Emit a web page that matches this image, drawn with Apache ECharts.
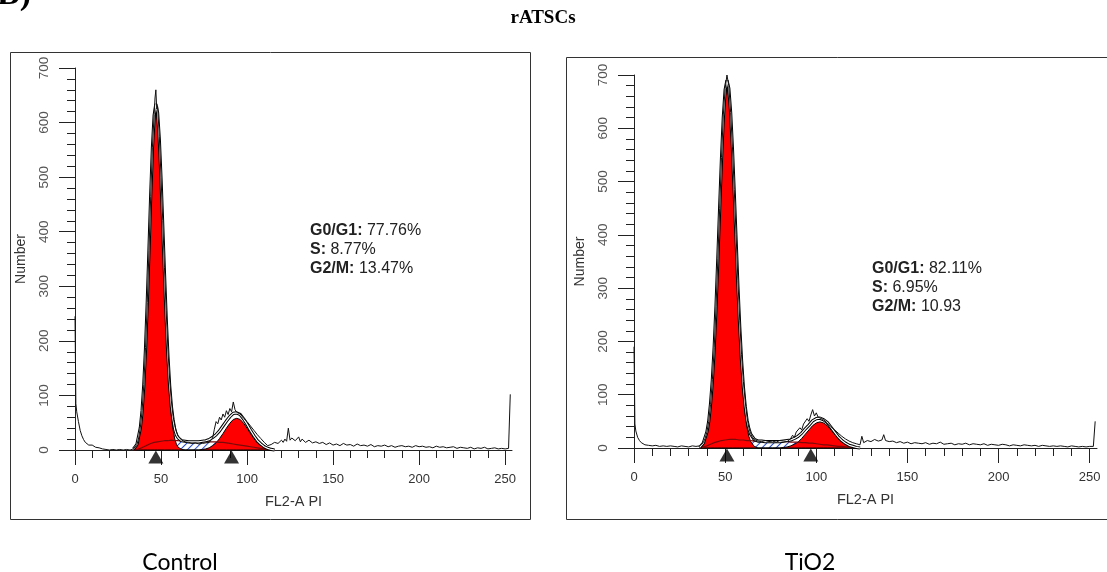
<!DOCTYPE html>
<html>
<head>
<meta charset="utf-8">
<script src="https://cdn.jsdelivr.net/npm/echarts@6.0.0/dist/echarts.min.js"></script>
<style>html,body{margin:0;padding:0;background:#fff}#main{width:1107px;height:572px}</style>
</head>
<body>
<div id="main"></div>
<script>
// axis ticks (FL2-A channel)
var xMajorTicks = [0, 50, 100, 150, 200, 250];
var xMinorTicks = [10, 20, 30, 40, 60, 70, 80, 90, 110, 120, 130, 140, 160, 170, 180, 190, 210, 220, 230, 240];

// Control: ModFit model components
var ctrlModelX = [34,36,38,39,40,41,42,43,44,45,46,47,48,49,50,51,52,53,54,55,56,57,58,59,60,62,64,66,68,70,72,74,76,78,80,82,84,86,88,90,92,94,96,98,100,102,104,106,108,110,112,114,116];
var ctrlG1 = [2,9,38,68,114,179,261,356,454,540,599,620,603,554,480,394,306,224,155,101,62,37,20,10,5,1,0,0,0,0,0,0,0,0,0,0,0,0,0,0,0,0,0,0,0,0,0,0,0,0,0,0,0];
var ctrlS = [0,1,3,4,6,7,9,10,12,13,14,14,15,15,16,16,17,17,17,17,18,18,17,17,17,16,16,15,15,15,15,15,15,15,15,15,14,14,13,12,11,10,9,8,7,6,5,4,3,2,1,0,0];
var ctrlG2 = [0,0,0,0,0,0,0,0,0,0,0,0,0,0,0,0,0,0,0,0,0,0,0,0,0,0,0,0,0,0,0,1,2,4,8,13,21,30,40,49,56,58,56,49,40,30,21,13,8,4,2,1,0];
var ctrlFit = [2,10,41,72,120,186,270,366,466,553,613,634,618,569,496,410,323,241,172,118,80,55,37,27,22,17,16,15,15,15,15,16,17,19,23,28,35,44,53,61,67,68,65,57,47,36,26,17,11,6,3,1,0];
var ctrlMarks = [47, 91];
// Control: measured histogram [channel, count]
var ctrlRaw = [[0,245],[0.5,85],[1,70],[2,52],[3,36],[4,26],[5,19],[6,14],[7,11],[8,9],[9,8],[10,9],[11,6],[12,5],[14,4],[16,2],[18,1],[20,0],[22,1],[24,0],[26,1],[28,0],[30,1],[32,0],[34,2],[36,10],[37,22],[38,42],[39,72],[40,120],[41,188],[42,270],[43,365],[44,465],[45,555],[46,615],[46.5,645],[47,660],[47.5,625],[48,630],[49,575],[50,500],[51,420],[52,335],[53,255],[54,185],[55,130],[56,90],[57,62],[58,45],[59,33],[60,26],[61,22],[62,18],[63,16],[64,15],[66,14],[68,12],[70,13],[72,11],[74,12],[76,13],[78,14],[80,22],[81,38],[82,52],[83,48],[84,60],[85,55],[86,66],[87,60],[88,72],[89,65],[90,76],[91,70],[92,88],[93,74],[94,69],[96,66],[98,58],[100,52],[102,44],[104,36],[106,28],[108,21],[110,14],[112,8],[114,10],[116,14],[118,12],[120,18],[121,14],[122,20],[123,16],[124,40],[125,18],[126,22],[128,17],[130,24],[131,15],[132,20],[134,14],[136,18],[138,13],[140,15],[142,12],[144,14],[146,10],[148,13],[150,9],[152,11],[154,8],[156,12],[158,9],[160,10],[162,7],[164,11],[166,8],[168,9],[170,7],[172,10],[174,6],[176,8],[178,7],[180,9],[182,6],[184,8],[186,5],[188,7],[190,8],[192,6],[194,7],[196,5],[198,8],[200,6],[202,7],[204,5],[206,6],[208,4],[210,7],[212,5],[214,6],[216,4],[218,5],[220,6],[222,3],[224,5],[226,4],[228,3],[230,5],[232,2],[234,4],[236,3],[238,5],[240,2],[242,3],[244,4],[246,2],[248,3],[250,2],[252,3],[253,102]];

// TiO2: ModFit model components
var tioModelX = [36,38,40,41,42,43,44,45,46,47,48,49,50,51,52,53,54,55,56,57,58,59,60,61,62,63,64,66,68,70,72,74,76,78,80,82,84,86,88,90,92,94,96,98,100,102,104,106,108,110,112,114,116,118,120,122,124];
var tioG1 = [1,7,26,45,76,120,179,255,344,438,529,606,657,675,659,614,545,462,374,288,212,149,99,63,38,22,12,3,0,0,0,0,0,0,0,0,0,0,0,0,0,0,0,0,0,0,0,0,0,0,0,0,0,0,0,0,0];
var tioS = [0,2,4,5,7,8,10,11,12,13,14,14,15,15,16,16,16,16,16,15,15,15,15,15,14,14,14,13,13,13,12,12,12,12,12,12,12,11,11,11,10,10,9,9,8,7,6,6,5,4,3,3,2,1,1,0,0];
var tioG2 = [0,0,0,0,0,0,0,0,0,0,0,0,0,0,0,0,0,0,0,0,0,0,0,0,0,0,0,0,0,0,0,0,0,0,0,1,2,4,7,11,18,26,34,42,47,49,47,42,34,26,18,11,7,4,2,1,0];
var tioFit = [1,9,30,50,83,128,189,266,356,451,543,620,672,690,675,630,561,478,390,303,227,164,114,78,52,36,26,16,13,13,12,12,12,12,12,13,14,15,18,22,28,36,43,51,55,56,53,48,39,30,21,14,9,5,3,1,0];
var tioMarks = [51, 97];
// TiO2: measured histogram [channel, count]
var tioRaw = [[0,190],[0.5,45],[1,32],[2,20],[3,14],[4,10],[5,8],[6,6],[8,5],[10,4],[12,5],[14,3],[16,4],[18,3],[20,4],[22,3],[24,2],[26,4],[28,3],[30,2],[32,4],[34,3],[36,4],[38,10],[39,18],[40,30],[41,50],[42,82],[43,128],[44,188],[45,265],[46,355],[47,450],[48,545],[49,625],[50,675],[51,700],[52,680],[53,630],[54,565],[55,485],[56,400],[57,315],[58,240],[59,175],[60,125],[61,88],[62,58],[63,38],[64,27],[65,20],[66,16],[68,13],[70,12],[72,14],[74,12],[76,13],[78,11],[80,14],[82,13],[84,12],[86,18],[87,24],[88,20],[89,30],[90,28],[91,38],[92,34],[93,45],[94,42],[95,55],[96,50],[97,62],[98,72],[99,60],[100,66],[101,58],[102,56],[104,53],[106,47],[108,40],[110,34],[112,28],[114,22],[116,17],[118,13],[120,10],[122,8],[124,6],[125,22],[126,10],[128,14],[130,12],[132,16],[134,13],[136,15],[137,25],[138,14],[140,12],[142,13],[144,10],[146,12],[148,9],[150,11],[152,8],[154,10],[156,9],[158,8],[160,10],[162,7],[164,9],[166,8],[168,11],[170,7],[172,8],[174,9],[176,6],[178,8],[180,7],[182,9],[184,6],[186,8],[188,7],[190,6],[192,8],[194,5],[196,7],[198,6],[200,5],[202,7],[204,6],[206,4],[208,6],[210,5],[212,4],[214,6],[216,5],[218,4],[220,5],[222,3],[224,5],[226,4],[228,3],[230,4],[232,3],[234,4],[236,3],[238,2],[240,4],[242,3],[244,2],[246,3],[248,2],[250,3],[252,3],[253,50]];

var FONT = 'Liberation Sans';
var hatch = {
  symbol: 'rect', symbolSize: 1, dashArrayX: [1, 0], dashArrayY: [1, 4],
  rotation: -Math.PI / 4, color: '#2b4fd0', backgroundColor: '#ffffff'
};

function zip(xs, ys) {
  return xs.map(function (x, i) { return [x, ys[i]]; });
}

function xMajor(g) {
  return {
    type: 'value', gridIndex: g, position: 'bottom', min: 0, max: 254,
    axisLine: {show: true, onZero: false, lineStyle: {color: '#222', width: 1}},
    axisTick: {show: true, customValues: xMajorTicks, length: 15, lineStyle: {color: '#222'}},
    axisLabel: {customValues: xMajorTicks, margin: 23, color: '#333', fontSize: 13, fontFamily: FONT},
    splitLine: {show: false},
    name: 'FL2-A PI', nameLocation: 'middle', nameGap: 44,
    nameTextStyle: {color: '#333', fontSize: 14.5, fontFamily: FONT}
  };
}
function xMinor(g) {
  return {
    type: 'value', gridIndex: g, position: 'bottom', min: 0, max: 254,
    axisLine: {show: false},
    axisTick: {show: true, customValues: xMinorTicks, length: 8, lineStyle: {color: '#222'}},
    axisLabel: {show: false},
    splitLine: {show: false}
  };
}
function yAx(g) {
  return {
    type: 'value', gridIndex: g, min: 0, max: 700, interval: 100,
    axisLine: {show: true, lineStyle: {color: '#222', width: 1}},
    axisTick: {show: true, length: 16, lineStyle: {color: '#222'}},
    minorTick: {show: true, splitNumber: 5, length: 8, lineStyle: {color: '#222'}},
    splitLine: {show: false},
    axisLabel: {rotate: 90, margin: 24, color: '#555', fontSize: 13.5, fontFamily: FONT},
    name: 'Number', nameLocation: 'middle', nameRotate: 90, nameGap: 47,
    nameTextStyle: {color: '#333', fontSize: 14, fontFamily: FONT}
  };
}

function panelSeries(g, modelX, g1, g2, s, fit, raw, marks) {
  var base = {type: 'line', xAxisIndex: 2 * g, yAxisIndex: g, symbol: 'none',
    showSymbol: false, clip: false, silent: true, animation: false};
  function mk(o) { return Object.assign({}, base, o); }
  return [
    mk({data: zip(modelX, s), z: 1, lineStyle: {width: 0},
      areaStyle: {color: '#ffffff', opacity: 1}, itemStyle: {color: '#2b4fd0', decal: hatch}}),
    mk({data: zip(modelX, g1), z: 2, lineStyle: {color: '#000', width: 1},
      areaStyle: {color: '#ff0000', opacity: 1}, itemStyle: {color: '#ff0000'}}),
    mk({data: zip(modelX, g2), z: 2, lineStyle: {color: '#000', width: 1},
      areaStyle: {color: '#ff0000', opacity: 1}, itemStyle: {color: '#ff0000'}}),
    mk({data: zip(modelX, s), z: 3, lineStyle: {color: '#7a0a0a', width: 1.2}}),
    mk({data: zip(modelX, fit), z: 4, lineStyle: {color: '#000', width: 3.2}}),
    mk({data: zip(modelX, fit), z: 5, lineStyle: {color: '#fff', width: 1.2}}),
    mk({data: raw, z: 6, lineStyle: {color: '#111', width: 1}}),
    {type: 'scatter', xAxisIndex: 2 * g, yAxisIndex: g, z: 10, clip: false, silent: true,
      animation: false, symbol: 'triangle', symbolSize: [15, 13], symbolOffset: [0, 7],
      itemStyle: {color: '#000'},
      data: marks.map(function (m) { return [m, 0]; })}
  ];
}

function statText(txt, left, top) {
  return {text: txt, left: left, top: top, padding: 0,
    textStyle: {fontFamily: FONT, fontSize: 16, lineHeight: 19, fontWeight: 'normal', color: '#222',
      rich: {b: {fontFamily: FONT, fontSize: 16, lineHeight: 19, fontWeight: 'bold', color: '#222'}}}};
}

var myecharts = echarts.init(document.getElementById('main'));
var option = {
  backgroundColor: '#fff',
  animation: false,
  title: [
    {text: 'B)', left: -3, top: -22, padding: 0, textStyle: {fontFamily: 'Liberation Serif', fontSize: 34, fontWeight: 'bold', color: '#000'}},
    {text: 'rATSCs', left: 543, top: 9, padding: 0, textAlign: 'center', textStyle: {fontFamily: 'Liberation Serif', fontSize: 19, fontWeight: 'bold', color: '#000'}},
    {text: 'Control', left: 180, top: 551, padding: 0, textAlign: 'center', textStyle: {fontFamily: 'Lato', fontSize: 23, fontWeight: 'normal', color: '#000'}},
    {text: 'TiO2', left: 810, top: 551, padding: 0, textAlign: 'center', textStyle: {fontFamily: 'Lato', fontSize: 23, fontWeight: 'normal', color: '#000'}},
    statText('{b|G0/G1:} 77.76%\n{b|S:} 8.77%\n{b|G2/M:} 13.47%', 310, 221),
    statText('{b|G0/G1:} 82.11%\n{b|S:} 6.95%\n{b|G2/M:} 10.93', 872, 259)
  ],
  graphic: [
    {type: 'rect', shape: {x: 10.5, y: 52.5, width: 520, height: 467}, style: {fill: 'none', stroke: '#333', lineWidth: 1}, silent: true},
    {type: 'rect', shape: {x: 566.5, y: 57.5, width: 560, height: 462}, style: {fill: 'none', stroke: '#333', lineWidth: 1}, silent: true}
  ],
  grid: [
    {left: 75, top: 68, width: 437, height: 382},
    {left: 634, top: 75, width: 463, height: 373}
  ],
  xAxis: [xMajor(0), xMinor(0), xMajor(1), xMinor(1)],
  yAxis: [yAx(0), yAx(1)],
  series: [].concat(
    panelSeries(0, ctrlModelX, ctrlG1, ctrlG2, ctrlS, ctrlFit, ctrlRaw, ctrlMarks),
    panelSeries(1, tioModelX, tioG1, tioG2, tioS, tioFit, tioRaw, tioMarks)
  )
};
myecharts.setOption(option);
</script>
</body>
</html>
